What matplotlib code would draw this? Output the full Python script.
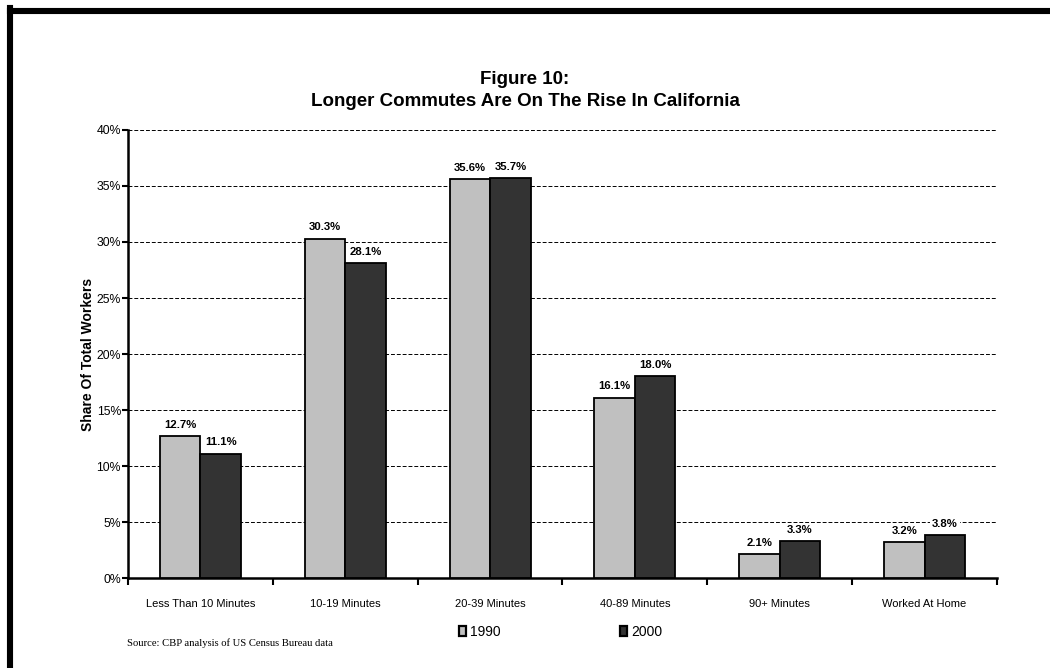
import matplotlib
matplotlib.use('agg')
import matplotlib.pyplot as plt
import numpy as np
from matplotlib.lines import Line2D
from matplotlib.patches import Patch
from matplotlib.ticker import FixedLocator, PercentFormatter

plt.rcParams['font.family'] = ['Liberation Sans', 'DejaVu Sans']

categories = ['Less Than 10 Minutes', '10-19 Minutes', '20-39 Minutes',
              '40-89 Minutes', '90+ Minutes', 'Worked At Home']
share_1990 = [12.7, 30.3, 35.6, 16.1, 2.1, 3.2]
share_2000 = [11.1, 28.1, 35.7, 18.0, 3.3, 3.8]
series_names = ['1990', '2000']
colors = ['#c0c0c0', '#333333']

fig = plt.figure(figsize=(10.5, 6.68), dpi=100)
ax = fig.add_axes([0.1219, 0.1347, 0.8276, 0.6707])

x = np.arange(len(categories))
w = 0.28
for i, (vals, c) in enumerate(zip([share_1990, share_2000], colors)):
    offs = (i - 0.5) * w
    bars = ax.bar(x + offs, vals, width=w, color=c, edgecolor='black',
                  linewidth=1.3, zorder=3)
    for b, v in zip(bars, vals):
        ax.annotate(f'{v:.1f}%', (b.get_x() + b.get_width() / 2, v),
                    xytext=(0, 4.5), textcoords='offset points',
                    ha='center', va='bottom', fontsize=8.2, fontweight='bold',
                    bbox=dict(facecolor='white', edgecolor='none', pad=1.5),
                    zorder=4)

ax.set_xlim(-0.5, len(categories) - 0.5)
ax.set_ylim(0, 40)
ax.set_yticks(np.arange(0, 41, 5))
ax.yaxis.set_major_formatter(PercentFormatter(decimals=0))
ax.yaxis.grid(True, color='black', linestyle=(0, (4, 2)), linewidth=0.7)
ax.set_axisbelow(True)

# category boundaries carry the tick marks, labels sit at the centres
ax.xaxis.set_major_locator(FixedLocator(np.arange(-0.5, len(categories), 1.0)))
ax.xaxis.set_major_formatter(plt.NullFormatter())
ax.xaxis.set_minor_locator(FixedLocator(x))
ax.set_xticklabels(categories, minor=True)
ax.tick_params(axis='x', which='major', direction='out', length=5, width=1.5)
ax.tick_params(axis='x', which='minor', length=0, pad=15, labelsize=8)
ax.tick_params(axis='y', direction='out', length=4, width=1.5, labelsize=8.8, pad=1)

for s in ['top', 'right']:
    ax.spines[s].set_visible(False)
for s in ['left', 'bottom']:
    ax.spines[s].set_linewidth(1.8)

ax.set_ylabel('Share Of Total Workers', fontsize=10, fontweight='bold', labelpad=1)

fig.text(0.5, 1 - 79 / 668, 'Figure 10:', ha='center', va='center',
         fontsize=13.5, fontweight='bold')
fig.text(0.5, 1 - 101 / 668, 'Longer Commutes Are On The Rise In California',
         ha='center', va='center', fontsize=13.5, fontweight='bold')

fig.text(0.121, 0.037, 'Source: CBP analysis of US Census Bureau data',
         family='Liberation Serif', fontsize=7.7, ha='left', va='center')

handles = [Patch(facecolor=c, edgecolor='black', linewidth=1.6) for c in colors]
fig.legend(handles, series_names, loc='center', bbox_to_anchor=(0.534, 0.054),
           ncol=2, frameon=False, fontsize=10, handlelength=0.5, handleheight=0.8,
           handletextpad=0.3, columnspacing=8.6)

# heavy frame along the top and left edges
fig.add_artist(Line2D([10 / 1050, 10 / 1050], [0, 1 - 8 / 668], color='black',
                      linewidth=4.4, solid_capstyle='projecting'))
fig.add_artist(Line2D([10 / 1050, 1], [1 - 11 / 668, 1 - 11 / 668], color='black',
                      linewidth=4.4, solid_capstyle='projecting'))

fig.savefig('out.png', dpi=100)
